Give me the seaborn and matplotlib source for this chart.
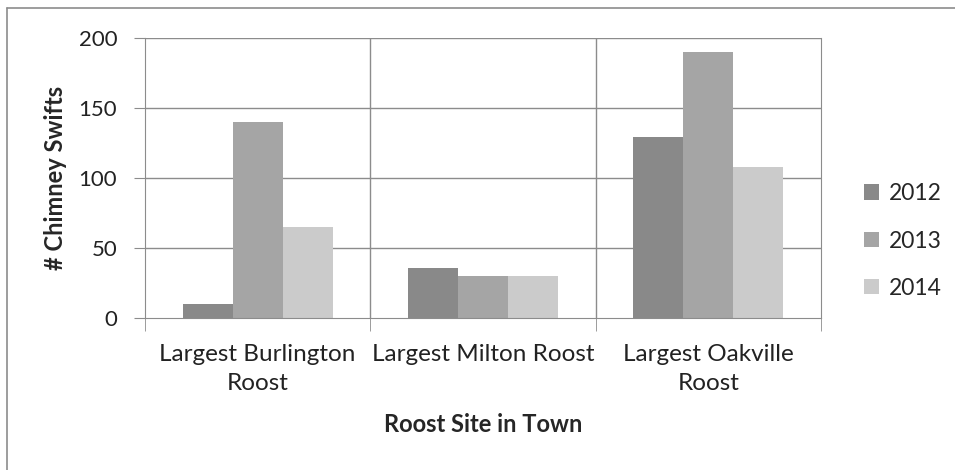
import pandas as pd
import matplotlib.pyplot as plt
import seaborn as sns
from matplotlib.lines import Line2D
from matplotlib.patches import Patch

# data
sites = ['Largest Burlington\nRoost', 'Largest Milton Roost', 'Largest Oakville\nRoost']
years = ['2012', '2013', '2014']
counts_2012 = [10, 36, 129]
counts_2013 = [140, 30, 190]
counts_2014 = [65, 30, 108]
colors = ['#898989', '#a5a5a5', '#cbcbcb']

df = pd.DataFrame({
    'Site': sites * 3,
    'Year': [y for y in years for _ in sites],
    'Count': counts_2012 + counts_2013 + counts_2014,
})

sns.set_style('white')
plt.rcParams['font.family'] = ['Lato', 'DejaVu Sans']

fig = plt.figure(figsize=(9.55, 4.70), dpi=100)
ax = fig.add_axes([145 / 955, 1 - 318 / 470, (821 - 145) / 955, (318 - 38) / 470])

sns.barplot(data=df, x='Site', y='Count', hue='Year', palette=colors,
            width=0.665, gap=0, saturation=1, linewidth=0, ax=ax, legend=False)

grid_c = '#8c8c8c'
ax.set_ylim(0, 200)
ax.set_xlim(-0.5, 2.5)
ax.set_yticks([0, 50, 100, 150, 200])
for y in [50, 100, 150, 200]:
    ax.axhline(y, color=grid_c, lw=1, zorder=0)
for x in [0.5, 1.5]:
    ax.axvline(x, color=grid_c, lw=1, zorder=0)
ax.spines['top'].set_visible(False)
for side in ['left', 'bottom', 'right']:
    ax.spines[side].set_color(grid_c)

# category boundary ticks below the axis
ax.set_xticks([0, 1, 2])
ax.set_xticks([-0.5, 0.5, 1.5, 2.5], minor=True)
ax.tick_params(axis='x', which='major', length=0, labelsize=17.5, pad=19, colors='#222222')
ax.tick_params(axis='x', which='minor', length=9, color=grid_c, direction='out', bottom=True)
ax.tick_params(axis='y', length=8, color=grid_c, direction='out', left=True,
               labelsize=16, pad=12, colors='#222222')
for lab in ax.get_xticklabels():
    lab.set_linespacing(1.45)

ax.set_xlabel('Roost Site in Town', fontsize=17, fontweight='bold', labelpad=14)
ax.set_ylabel('# Chimney Swifts', fontsize=17, fontweight='bold', labelpad=8)

handles = [Patch(facecolor=c, edgecolor='none') for c in colors]
fig.legend(handles, years, loc='center left', bbox_to_anchor=(853 / 955, 1 - 241 / 470),
           frameon=False, fontsize=16.5, handlelength=0.65, handleheight=0.65,
           labelspacing=1.15, handletextpad=0.4, borderpad=0)

# chart area border (top and left visible)
fig.add_artist(Line2D([7 / 955, 7 / 955], [0, 1 - 8 / 470], transform=fig.transFigure,
                      color='#8c8c8c', lw=1.2))
fig.add_artist(Line2D([7 / 955, 1], [1 - 8 / 470, 1 - 8 / 470], transform=fig.transFigure,
                      color='#8c8c8c', lw=1.2))

fig.savefig('out.png', dpi=100, facecolor='white')
